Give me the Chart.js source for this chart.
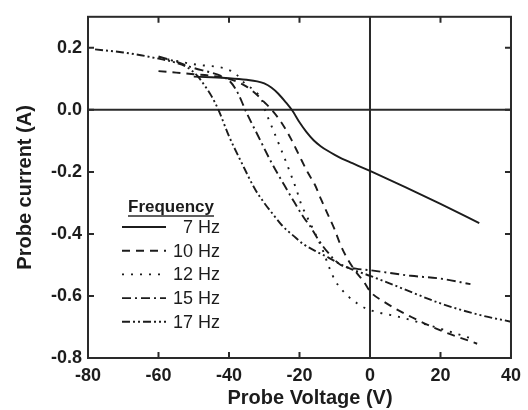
<!DOCTYPE html>
<html>
<head>
<meta charset="utf-8">
<script src="https://cdn.jsdelivr.net/npm/chart.js@4"></script>
<style>
  html, body { margin: 0; padding: 0; background: #fff; }
</style>
</head>
<body>
<canvas id="ivChart" width="528" height="410"></canvas>
<script>
// values
var seriesLabels = ['7 Hz', '10 Hz', '12 Hz', '15 Hz', '17 Hz'];

var volt7 = [-50,-45,-40,-35,-32,-30,-28,-26,-24,-22,-20,-18,-16,-14,-12,-10,-8,-5,0,10,20,31];
var curr7 = [0.107,0.105,0.102,0.097,0.092,0.085,0.072,0.052,0.026,-0.003,-0.04,-0.072,-0.098,-0.117,-0.132,-0.145,-0.157,-0.172,-0.197,-0.249,-0.303,-0.365];

var volt10 = [-60,-55,-50,-45,-42,-38,-35,-32,-30,-27.9,-25,-22.3,-20,-17.6,-15.7,-13.9,-12,-10.1,-8.3,-6.4,-4,-1.7,0,4,11.6,20,30.4];
var curr10 = [0.125,0.12,0.115,0.11,0.105,0.092,0.075,0.048,0.025,0,-0.043,-0.096,-0.149,-0.203,-0.24,-0.288,-0.336,-0.384,-0.437,-0.48,-0.522,-0.555,-0.585,-0.619,-0.667,-0.711,-0.754];

var volt12 = [-60,-55,-51,-47,-43.5,-40.5,-38,-35.5,-32.5,-30.7,-29.8,-27.9,-25.6,-23.7,-22.3,-20.9,-19.5,-18.5,-15.7,-13.5,-11.5,-10,-8.3,-6,-3.6,-1.2,3,7,16.3,29.4];
var curr12 = [0.168,0.158,0.149,0.143,0.139,0.131,0.115,0.085,0.059,0.032,0,-0.053,-0.117,-0.171,-0.213,-0.256,-0.305,-0.33,-0.395,-0.45,-0.51,-0.548,-0.576,-0.603,-0.624,-0.64,-0.655,-0.664,-0.693,-0.739];

var volt15 = [-60,-55,-50,-45,-42,-40,-38,-36.5,-35.4,-31.7,-27.9,-24.2,-21.4,-18.5,-17.1,-14.8,-12,-8.3,-4,0,11.6,20,28.5];
var curr15 = [0.172,0.155,0.135,0.12,0.108,0.095,0.065,0.03,0,-0.085,-0.171,-0.245,-0.299,-0.352,-0.373,-0.416,-0.459,-0.5,-0.512,-0.517,-0.535,-0.544,-0.562];

var volt17 = [-78,-70,-65,-60,-56,-52,-49,-47,-45,-43,-40,-36.4,-32.6,-30,-27.5,-25,-21.5,-19,-15,-12,-8,-5,-2,0,5,11.6,20,31,40];
var curr17 = [0.195,0.185,0.176,0.165,0.155,0.138,0.11,0.08,0.045,0,-0.085,-0.171,-0.256,-0.3,-0.337,-0.372,-0.408,-0.432,-0.458,-0.475,-0.5,-0.515,-0.527,-0.535,-0.557,-0.587,-0.624,-0.661,-0.683];

var xTickVals = [-80,-60,-40,-20,0,20,40];
var yTickVals = [-0.8,-0.6,-0.4,-0.2,0.0,0.2];

var volts = [volt7, volt10, volt12, volt15, volt17];
var currs = [curr7, curr10, curr12, curr15, curr17];
var dashes = [[], [8,6], [2,7], [9,4,2,4], [8,3,2,3,2,3]];

var ink = '#1c1c1c';
var fontFam = '"Liberation Sans", Arial, Helvetica, sans-serif';

function toPoints(xs, ys) {
  return xs.map(function (v, i) { return { x: v, y: ys[i] }; });
}

var datasets = seriesLabels.map(function (lab, k) {
  return {
    label: lab,
    data: toPoints(volts[k], currs[k]),
    showLine: true,
    borderColor: ink,
    borderWidth: 1.9,
    borderDash: dashes[k],
    pointRadius: 0,
    cubicInterpolationMode: 'monotone',
    fill: false
  };
});

// frame, inward ticks, zero lines, x title, legend
var frameAndLegend = {
  id: 'frameAndLegend',
  beforeDatasetsDraw(chart) {
    const { ctx, chartArea: { left, right, top, bottom }, scales: { x, y } } = chart;
    ctx.save();
    ctx.strokeStyle = '#2a2a2a';
    ctx.lineWidth = 2;
    const x0 = x.getPixelForValue(0);
    const y0 = y.getPixelForValue(0);
    ctx.beginPath();
    ctx.moveTo(x0, top); ctx.lineTo(x0, bottom);
    ctx.moveTo(left, y0); ctx.lineTo(right, y0);
    ctx.stroke();
    ctx.restore();
  },
  afterDraw(chart) {
    const { ctx, chartArea: { left, right, top, bottom }, scales: { x, y } } = chart;
    ctx.save();
    ctx.strokeStyle = '#2a2a2a';
    ctx.lineWidth = 2;
    ctx.strokeRect(left, top, right - left, bottom - top);
    ctx.beginPath();
    xTickVals.forEach(function (v) {
      const px = x.getPixelForValue(v);
      ctx.moveTo(px, bottom); ctx.lineTo(px, bottom - 6);
      ctx.moveTo(px, top); ctx.lineTo(px, top + 6);
    });
    yTickVals.forEach(function (v) {
      const py = y.getPixelForValue(v);
      ctx.moveTo(left, py); ctx.lineTo(left + 6, py);
      ctx.moveTo(right, py); ctx.lineTo(right - 6, py);
    });
    ctx.stroke();

    // x axis title (sits a bit right of centre in the original)
    ctx.fillStyle = ink;
    ctx.font = 'bold 20px ' + fontFam;
    ctx.textAlign = 'center';
    ctx.textBaseline = 'middle';
    ctx.fillText('Probe Voltage (V)', 310, 398);

    // legend
    const lx0 = 122, lx1 = 166, tx = 220;
    let ly = 207;
    ctx.font = 'bold 17px ' + fontFam;
    const title = 'Frequency';
    const tw = ctx.measureText(title).width;
    ctx.fillText(title, 171, ly);
    ctx.lineWidth = 1.5;
    ctx.beginPath();
    ctx.moveTo(171 - tw / 2, ly + 9); ctx.lineTo(171 + tw / 2, ly + 9);
    ctx.stroke();

    ctx.font = '18px ' + fontFam;
    ctx.textAlign = 'right';
    chart.data.datasets.forEach(function (ds, i) {
      const ry = 227 + i * 23.7;
      ctx.strokeStyle = ink;
      ctx.lineWidth = 1.9;
      ctx.setLineDash(ds.borderDash);
      ctx.beginPath();
      ctx.moveTo(lx0, ry); ctx.lineTo(lx1, ry);
      ctx.stroke();
      ctx.setLineDash([]);
      ctx.fillText(ds.label, tx, ry + 1);
    });
    ctx.restore();
  }
};

var tickFont = { family: fontFam, size: 18, weight: 'bold' };
var titleFont = { family: fontFam, size: 20, weight: 'bold' };

var ctx = document.getElementById('ivChart').getContext('2d');
var ivChart = new Chart(ctx, {
  type: 'scatter',
  data: { datasets: datasets },
  options: {
    responsive: false,
    animation: false,
    layout: { padding: { left: 0, right: 13, top: 13, bottom: 0 } },
    plugins: {
      legend: { display: false },
      tooltip: { enabled: false }
    },
    scales: {
      x: {
        type: 'linear',
        min: -80,
        max: 40,
        afterBuildTicks: function (s) { s.ticks = xTickVals.map(function (v) { return { value: v }; }); },
        afterFit: function (s) { s.height = 52; },
        grid: { display: false, drawTicks: false },
        border: { display: false },
        ticks: { padding: 7, color: ink, font: tickFont, maxRotation: 0, callback: function (v) { return String(v); } },
        title: { display: false }
      },
      y: {
        type: 'linear',
        min: -0.8,
        max: 0.3,
        afterBuildTicks: function (s) { s.ticks = yTickVals.map(function (v) { return { value: v }; }); },
        afterFit: function (s) { s.width = 88; },
        grid: { display: false, drawTicks: false },
        border: { display: false },
        ticks: { padding: 6, color: ink, font: tickFont, callback: function (v) { return v.toFixed(1); } },
        title: { display: true, text: 'Probe current (A)', color: ink, font: titleFont, padding: { top: 13, bottom: 0 } }
      }
    }
  },
  plugins: [frameAndLegend]
});
</script>
</body>
</html>
